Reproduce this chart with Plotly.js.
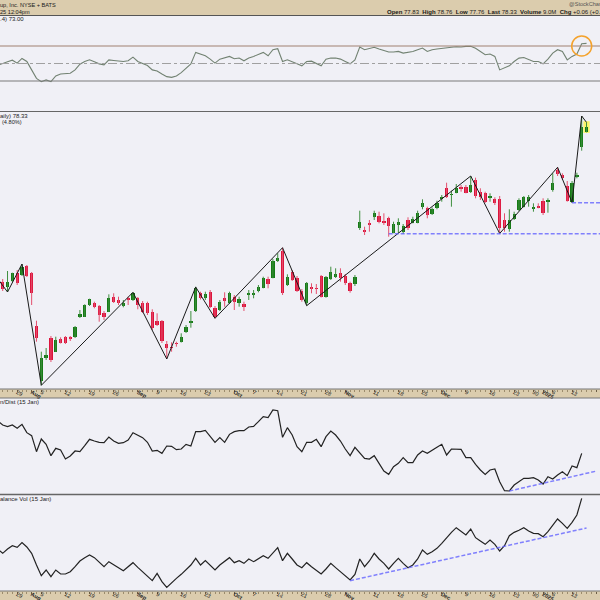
<!DOCTYPE html>
<html><head><meta charset="utf-8">
<script src="https://cdn.plot.ly/plotly-3.0.1.min.js"></script>
<style>html,body{margin:0;padding:0;background:#f0f0f6;}#chart{width:600px;height:600px;}</style>
</head><body><div id="chart"></div>
<script>
// ---------- DATA ----------
const dates = [
"2024-07-23","2024-07-24","2024-07-25","2024-07-26","2024-07-29","2024-07-30","2024-07-31",
"2024-08-01","2024-08-02","2024-08-05","2024-08-06","2024-08-07","2024-08-08","2024-08-09","2024-08-12","2024-08-13","2024-08-14","2024-08-15","2024-08-16","2024-08-19","2024-08-20","2024-08-21","2024-08-22","2024-08-23","2024-08-26","2024-08-27","2024-08-28","2024-08-29","2024-08-30",
"2024-09-03","2024-09-04","2024-09-05","2024-09-06","2024-09-09","2024-09-10","2024-09-11","2024-09-12","2024-09-13","2024-09-16","2024-09-17","2024-09-18","2024-09-19","2024-09-20","2024-09-23","2024-09-24","2024-09-25","2024-09-26","2024-09-27","2024-09-30",
"2024-10-01","2024-10-02","2024-10-03","2024-10-04","2024-10-07","2024-10-08","2024-10-09","2024-10-10","2024-10-11","2024-10-14","2024-10-15","2024-10-16","2024-10-17","2024-10-18","2024-10-21","2024-10-22","2024-10-23","2024-10-24","2024-10-25","2024-10-28","2024-10-29","2024-10-30","2024-10-31",
"2024-11-01","2024-11-04","2024-11-05","2024-11-06","2024-11-07","2024-11-08","2024-11-11","2024-11-12","2024-11-13","2024-11-14","2024-11-15","2024-11-18","2024-11-19","2024-11-20","2024-11-21","2024-11-22","2024-11-25","2024-11-26","2024-11-27","2024-11-29",
"2024-12-02","2024-12-03","2024-12-04","2024-12-05","2024-12-06","2024-12-09","2024-12-10","2024-12-11","2024-12-12","2024-12-13","2024-12-16","2024-12-17","2024-12-18","2024-12-19","2024-12-20","2024-12-23","2024-12-24","2024-12-26","2024-12-27","2024-12-30","2024-12-31",
"2025-01-02","2025-01-03","2025-01-06","2025-01-07","2025-01-08","2025-01-10","2025-01-13","2025-01-14","2025-01-15","2025-01-16"];
const futureDates = ["2025-01-17","2025-01-21"];

const openP = [null,
62.83,62.27,62.9,63.73,63.47,64.43,63.67,58.4,52.93,55.17,
57.17,55.83,57.07,57.27,57.27,57.27,59.33,59.33,60.5,60.67,
60.4,59.73,59.83,61.33,61.0,60.43,61.17,61.0,61.17,60.67,
60.67,59.83,58.9,58.9,56.57,56.33,56.7,56.83,57.77,58.67,
59.9,61.67,61.23,61.77,60.23,60.0,61.17,60.67,61.33,60.73,
60.57,61.5,61.5,61.9,62.23,63.1,63.23,64.9,65.9,62.5,
63.77,63.23,61.9,60.67,62.27,62.17,63.4,61.33,63.07,63.27,
63.67,63.4,62.67,62.6,68.17,68.0,68.67,69.33,69.4,68.93,
69.17,67.73,68.5,67.83,69.0,68.73,68.73,70.33,70.17,69.6,
70.17,71.07,72.17,71.5,71.73,72.27,72.27,71.83,73.0,71.83,
71.67,71.17,71.07,71.07,69.0,68.07,69.07,70.0,70.33,70.93,
70.07,70.43,70.93,70.83,72.0,74.0,73.47,72.4,70.83,73.27,
76.27,77.83];
const highP = [null,
63.1,63.9,63.73,64.0,64.6,64.5,63.8,58.93,55.83,56.2,
57.4,57.33,57.27,57.4,57.4,58.4,60.0,60.57,61.13,60.83,
60.5,59.9,61.57,61.67,61.33,61.0,61.33,61.77,61.3,60.9,
60.83,60.07,59.67,59.0,56.9,56.77,56.83,57.67,58.5,59.9,
62.33,61.83,61.83,62.0,60.4,61.0,61.77,61.83,61.5,61.33,
60.83,62.0,62.0,62.5,63.33,63.33,65.1,65.67,66.23,63.57,
64.0,63.4,62.1,62.8,62.67,62.6,63.5,63.4,64.33,64.17,
64.17,63.6,62.83,63.5,69.93,68.33,69.0,69.93,69.83,69.67,
69.33,68.83,69.17,68.6,69.27,69.33,69.93,71.07,70.33,70.25,
70.93,71.5,72.73,71.93,72.6,72.5,72.5,73.4,73.23,72.17,
71.83,71.67,71.27,71.4,69.67,70.07,69.83,71.17,71.4,71.5,
70.67,70.67,71.17,71.17,73.67,74.27,73.67,72.9,72.9,73.73,
79.4,78.76];
const lowP = [null,
61.9,61.8,62.8,62.5,63.4,63.3,60.5,56.83,52.47,55.0,
54.8,55.8,56.65,56.6,56.9,57.2,59.2,59.3,60.4,60.17,
58.83,59.0,59.8,60.7,60.5,60.27,60.5,60.9,60.07,59.7,
59.5,58.0,58.4,56.7,55.1,55.83,56.33,56.75,57.7,58.23,
59.8,61.05,61.0,60.2,59.17,59.9,60.33,60.6,60.0,60.33,
59.9,61.0,61.17,61.77,62.17,62.17,63.17,64.8,61.5,62.4,
62.9,61.8,60.83,60.43,61.67,61.6,61.25,61.23,63.0,63.2,
62.83,62.5,61.73,62.4,68.0,67.5,67.83,69.0,68.67,68.5,
67.33,67.67,67.67,67.6,68.0,68.67,68.67,70.07,69.17,69.5,
70.07,70.83,71.2,70.33,71.67,71.83,71.67,71.7,71.17,71.0,
70.7,70.83,70.5,67.65,67.83,67.83,69.0,69.9,70.25,70.33,
69.83,70.17,69.5,69.73,71.83,73.4,73.0,70.83,70.75,73.17,
75.93,77.76];
const closeP = [null,
62.07,62.83,63.7,62.67,64.33,63.4,61.73,57.17,55.17,55.5,
55.0,57.0,56.73,56.73,57.07,58.27,59.57,60.5,61.07,60.33,
59.5,59.33,61.17,60.77,60.67,60.67,61.0,61.67,60.5,59.83,
59.67,58.2,58.5,56.9,56.23,56.17,56.63,57.33,58.27,58.9,
62.17,61.17,61.57,60.33,59.33,60.83,60.93,61.67,60.83,61.1,
60.33,61.73,61.67,62.33,63.23,62.57,64.9,65.23,61.67,63.33,
63.0,61.9,61.0,62.67,62.13,62.07,61.33,63.27,63.83,63.6,
63.17,62.73,61.93,63.33,68.83,67.83,68.5,69.67,68.83,68.67,
68.4,68.6,68.83,68.4,68.17,69.07,69.67,70.67,69.5,70.07,
70.73,71.27,71.27,71.55,72.17,72.07,71.73,72.5,71.4,71.27,
70.83,71.4,70.73,68.17,68.17,69.0,69.6,71.0,71.27,71.27,
70.33,70.23,69.73,71.0,72.67,73.6,73.2,70.93,72.73,73.5,
78.27,78.33];

const rsi = [48,
49.6,52,53.8,50.4,55.8,52.3,42.7,33,29.2,31.2,
29.2,35.8,38,38,38.8,42.7,49.2,52.3,54.2,51.9,
49.6,48.5,54.2,53.5,53.1,52.3,53.1,57.3,52.3,49.6,
47.7,42.7,41.5,38,35,34.2,35.8,39.6,44.6,49.6,
62.7,60.8,58.8,55,50.4,55,56.2,58.1,55.4,56.2,
53.1,56.2,58.1,60,62.7,58.8,65.8,66.9,52.3,54.2,
52.3,49.6,47.3,52.3,52.7,50.4,47.3,55,56.2,56.2,
55,52.3,49.6,54.2,68.8,65.8,67.3,68.5,66.5,64.6,
63.1,63.1,63.8,61.9,62.7,63.8,65.8,67.7,63.8,65.8,
66.5,67.3,68.5,68.5,69.2,68.8,69.6,69.6,67.3,63.8,
60,60.8,58.1,42.7,44.6,47.3,52.3,56.2,56.9,55,
52.3,52.3,49.6,55,61.9,65.8,63.8,54.2,58.1,60.8,
72.6,73.0];

const accDist = [219,
207,202,207,197,209,184,175,127,165,149,
115,137,132,105,114,129,127,145,164,159,
155,154,171,159,152,154,162,184,177,169,
155,129,131,122,144,143,133,135,149,144,
187,187,191,172,155,169,155,179,187,190,
190,201,203,217,232,229,252,250,170,199,
177,142,127,155,155,164,142,172,189,177,
159,135,115,140,125,107,105,115,92,69,
59,82,92,109,94,94,117,129,122,130,
140,149,117,135,135,134,109,109,89,72,
59,72,75,37,10,9,27,37,47,47,
49,42,30,52,45,57,67,55,84,79,
122,null];

const onBalanceVol = [125,
113,126,136,131,145,132,113,78,46,63,
43,63,51,51,58,73,90,100,108,100,
85,73,88,78,70,61,73,85,71,58,
45,31,53,28,11,26,38,50,63,78,
98,78,91,78,63,78,88,100,85,91,
83,96,88,96,106,98,113,130,91,113,
96,78,70,85,73,61,51,66,83,70,
58,46,33,50,96,73,90,113,96,83,
66,83,98,83,70,78,96,123,110,118,
128,143,160,176,190,180,168,186,160,150,
140,153,140,120,136,166,176,182,190,180,
173,172,163,178,198,216,203,188,206,228,
278,null];

const tickDates = ["2024-07-29","2024-08-01","2024-08-05","2024-08-12","2024-08-19","2024-08-26","2024-09-03","2024-09-09","2024-09-16","2024-09-23",
"2024-10-01","2024-10-07","2024-10-14","2024-10-21","2024-10-28","2024-11-01","2024-11-11","2024-11-18","2024-11-25",
"2024-12-02","2024-12-09","2024-12-16","2024-12-23","2024-12-30","2025-01-02","2025-01-06","2025-01-13","2025-01-21"];
const tickLabels = ["29","<b>Aug</b>","5","12","19","26","<b>Sep</b>","9","16","23",
"<b>Oct</b>","7","14","21","28","<b>Nov</b>","11","18","25",
"<b>Dec</b>","9","16","23","30","<b>2025</b>","6","13","21"];

const pivotDates = ["2024-07-23","2024-07-25","2024-07-30","2024-08-05","2024-08-30","2024-09-11","2024-09-19","2024-09-25","2024-10-15","2024-10-22","2024-12-10","2024-12-18","2025-01-07","2025-01-13","2025-01-15","2025-01-16"];
const pivotPrices = [63.1,61.8,64.6,52.47,61.77,55.1,62.3,59.17,66.23,60.43,73.4,67.65,74.27,70.75,79.4,78.76];

const supportDates = ["2024-11-14","2025-01-13"];
const supportLevels = [67.62,70.73];
const adTrendDates = ["2024-12-20","2025-01-21"];
const adTrendValues = [9,68.6];
const obvTrendDates = ["2024-11-04","2025-01-16"];
const obvTrendValues = [31,189];

// ---------- LAYOUT HELPERS ----------
const W = 600, H = 600;
const PX_PER_DAY = 4.825, X_OFFSET = -2.125;
const xRange = [(0 - X_OFFSET) / PX_PER_DAY, (W - X_OFFSET) / PX_PER_DAY];
const axisDates = dates.concat(futureDates);
const idx = d => axisDates.indexOf(d);
const py = p => 1 - p / H;

const BG = '#f0f0f6', TAN = '#dbccad';
const FONT = 'Liberation Sans, Arial, sans-serif';
const UP = '#167a16', DOWN = '#dc143c';

// candles
const bx = [], bBase = [], bH = [], bCol = [];
const wUpX = [], wUpY = [], wDnX = [], wDnY = [];
dates.forEach((d, k) => {
  const o = openP[k], c = closeP[k];
  if (o === null) return;
  const up = c >= o;
  bx.push(k); bBase.push(Math.min(o, c)); bH.push(Math.max(Math.abs(c - o), 0.1)); bCol.push(up ? UP : DOWN);
  if (up) { wUpX.push(k, k, null); wUpY.push(lowP[k], highP[k], null); }
  else { wDnX.push(k, k, null); wDnY.push(lowP[k], highP[k], null); }
});
const ks = dates.map((d, k) => k);
const lastK = dates.length - 1;

const traces = [
  {type:'scatter', mode:'lines', x:wUpX, y:wUpY, line:{color:'#3f8f3f', width:1}, xaxis:'x', yaxis:'y', hoverinfo:'skip'},
  {type:'scatter', mode:'lines', x:wDnX, y:wDnY, line:{color:'#e4506e', width:1}, xaxis:'x', yaxis:'y', hoverinfo:'skip'},
  {type:'bar', x:bx, base:bBase, y:bH, width:0.68, marker:{color:bCol, line:{width:0}}, xaxis:'x', yaxis:'y'},
  {type:'scatter', mode:'lines', x:pivotDates.map(idx), y:pivotPrices, line:{color:'#1a1a1a', width:1}, xaxis:'x', yaxis:'y'}
];
supportDates.forEach((d, i) => traces.push({type:'scatter', mode:'lines', x:[idx(d), xRange[1] + 1], y:[supportLevels[i], supportLevels[i]],
  line:{color:'rgba(100,100,255,0.8)', width:1.6, dash:'4px,2px'}, xaxis:'x', yaxis:'y'}));
traces.push({type:'scatter', mode:'lines', x:ks, y:rsi, line:{color:'#728272', width:1.1}, xaxis:'x2', yaxis:'y2'});
traces.push({type:'scatter', mode:'lines', x:ks, y:accDist, line:{color:'#222', width:1.2}, xaxis:'x3', yaxis:'y3'});
traces.push({type:'scatter', mode:'lines', x:adTrendDates.map(idx), y:adTrendValues, line:{color:'rgba(100,100,255,0.8)', width:1.5, dash:'4px,2px'}, xaxis:'x3', yaxis:'y3'});
traces.push({type:'scatter', mode:'lines', x:ks, y:onBalanceVol, line:{color:'#222', width:1.2}, xaxis:'x4', yaxis:'y4'});
traces.push({type:'scatter', mode:'lines', x:obvTrendDates.map(idx), y:obvTrendValues, line:{color:'rgba(100,100,255,0.8)', width:1.5, dash:'4px,2px'}, xaxis:'x4', yaxis:'y4'});

const tickvals = tickDates.map(idx);
const baseX = {range:xRange, showgrid:false, zeroline:false, showline:false, fixedrange:true};
const labelX = Object.assign({}, baseX, {tickmode:'array', tickvals:tickvals, ticktext:tickLabels, ticks:'outside', ticklen:2,
  tickcolor:'#6b5d45', tickwidth:1, tickfont:{family:FONT, size:5.5, color:'#222'}, ticklabelstandoff:-5,
  minor:{ticks:'outside', ticklen:1.5, tick0:0, dtick:1, tickcolor:'#9c8c6c'}});
const hideX = Object.assign({}, baseX, {showticklabels:false, ticks:''});
const baseY = {showgrid:false, zeroline:false, showticklabels:false, ticks:'', fixedrange:true};

const panels = {rsi:[16,111], price:[112,389], ad:[398,494], obv:[495,591]};
const dom = p => [py(p[1]), py(p[0])];

const RSI_PX = 0.875;
const shapes = [
  {type:'rect', xref:'paper', yref:'paper', x0:0, x1:1, y0:py(15), y1:1, fillcolor:TAN, line:{width:0}, layer:'below'},
  {type:'rect', xref:'paper', yref:'paper', x0:0, x1:1, y0:py(398), y1:py(389), fillcolor:TAN, line:{width:0}, layer:'below'},
  {type:'rect', xref:'paper', yref:'paper', x0:0, x1:1, y0:0, y1:py(591), fillcolor:TAN, line:{width:0}, layer:'below'},
  {type:'line', xref:'paper', yref:'y2', x0:0, x1:1, y0:70, y1:70, line:{color:'#a08070', width:1}},
  {type:'line', xref:'paper', yref:'y2', x0:0, x1:1, y0:30, y1:30, line:{color:'#7a7a7a', width:1}},
  {type:'line', xref:'paper', yref:'y2', x0:0, x1:1, y0:50, y1:50, line:{color:'#a0a0a0', width:1, dash:'dashdot'}},
  {type:'rect', xref:'x', yref:'y', x0:lastK - 0.65, x1:lastK + 0.65, y0:lowP[lastK] - 0.05, y1:highP[lastK] + 0.12, fillcolor:'#fbf56a', line:{width:0}, layer:'below'},
  {type:'circle', xref:'x2', yref:'y2', x0:idx('2025-01-15') - 10 / PX_PER_DAY, x1:idx('2025-01-15') + 10 / PX_PER_DAY,
    y0:70 - 10 / RSI_PX, y1:70 + 10 / RSI_PX, line:{color:'#f4a22c', width:1.5}}
];
[[15.5,'#555',1],[111.5,'#666',1.2],[389,'#777',1],[398,'#777',1],[494.5,'#666',1.3],[591,'#777',1]].forEach(s =>
  shapes.push({type:'line', xref:'paper', yref:'paper', x0:0, x1:1, y0:py(s[0]), y1:py(s[0]), line:{color:s[1], width:s[2]}, layer:'above'}));

const ann = (x, y, text, size, color) => ({xref:'paper', yref:'paper', x:x / W, y:py(y), xanchor:'left', yanchor:'middle',
  text:text, showarrow:false, font:{family:FONT, size:size, color:color || '#1a1a1a'}, borderpad:0});
const annotations = [
  ann(-1, 5, 'up, Inc. NYSE + BATS', 5.6),
  ann(-1, 12, '25 12:04pm', 5.6),
  ann(568, 4.5, '@StockCharts.com', 5.6, '#555'),
  ann(386, 12, '<b>Open</b> 77.83  <b>High</b> 78.76  <b>Low</b> 77.76  <b>Last</b> 78.33  <b>Volume</b> 9.0M  <b>Chg</b> +0.06 (+0.08%)', 6),
  ann(-1, 19.5, '.4) 73.00', 6),
  ann(-1, 116, 'aily) 78.33', 6),
  ann(1, 122.5, '(4.80%)', 5.6),
  ann(-1, 401.5, 'n/Dist (15 Jan)', 6),
  ann(-1, 498.5, 'alance Vol (15 Jan)', 6)
];

const layout = {
  width:W, height:H, margin:{l:0, r:0, t:0, b:0}, paper_bgcolor:BG, plot_bgcolor:BG, showlegend:false,
  barmode:'overlay', bargap:0,
  xaxis:Object.assign({}, labelX, {anchor:'y'}),
  xaxis2:Object.assign({}, hideX, {anchor:'y2'}),
  xaxis3:Object.assign({}, hideX, {anchor:'y3'}),
  xaxis4:Object.assign({}, labelX, {anchor:'y4'}),
  yaxis:Object.assign({}, baseY, {domain:dom(panels.price), range:[52.1, 79.8]}),
  yaxis2:Object.assign({}, baseY, {domain:dom(panels.rsi), range:[-4.29, 104.29]}),
  yaxis3:Object.assign({}, baseY, {domain:dom(panels.ad), range:[0, 288]}),
  yaxis4:Object.assign({}, baseY, {domain:dom(panels.obv), range:[0, 288]}),
  shapes:shapes, annotations:annotations
};
Plotly.newPlot('chart', traces, layout, {staticPlot:true, displayModeBar:false});
</script></body></html>
